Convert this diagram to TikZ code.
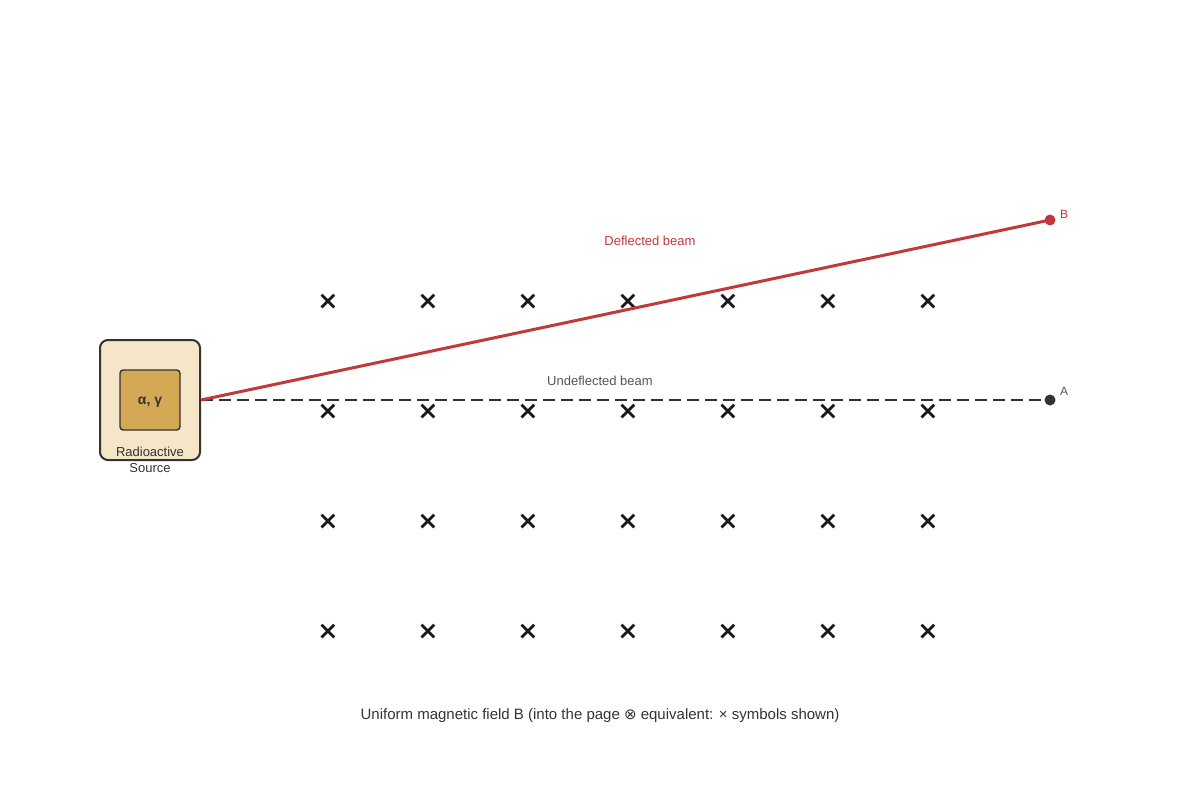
\documentclass[tikz,border=0pt]{standalone}
\usepackage{fontspec}
\setmainfont{Liberation Sans}
\newfontfamily\symfont{DejaVu Sans}
\definecolor{beamred}{HTML}{C0393B}
\definecolor{ink}{HTML}{333333}
\definecolor{soft}{HTML}{555555}
\definecolor{boxfill}{HTML}{F5E6C8}
\definecolor{corefill}{HTML}{D4A855}
\begin{document}
\begin{tikzpicture}[x=0.75pt,y=-0.75pt,
  srcbox/.style={draw=ink,line width=1.5pt,fill=boxfill,rounded corners=6pt,minimum width=75pt,minimum height=90pt,inner sep=0pt},
  corebox/.style={draw=ink,line width=1.1pt,fill=corefill,rounded corners=2.5pt,minimum width=45pt,minimum height=45pt,inner sep=0pt},
  lbl/.style={font=\fontsize{9.75pt}{11.5pt}\selectfont,inner sep=0pt},
  ptlbl/.style={font=\fontsize{9pt}{10pt}\selectfont,inner sep=0pt},
  fieldx/.style={font=\symfont\bfseries\fontsize{19pt}{19pt}\selectfont,inner sep=0pt,text=black!90},
  dot/.style={circle,inner sep=0pt,minimum size=8.25pt}
]
\useasboundingbox (0,0) rectangle (1200,800);
% field crosses
\foreach \r [count=\i] in {302,412,522,632}{
  \foreach \c [count=\j] in {328,428,528,628,728,828,928}{
    \node[fieldx] (x\i\j) at (\c,\r) {×};
  }
}
% source
\node[srcbox] (src) at (150,400) {};
\node[corebox] (core) at (150,400) {};
\node[font=\bfseries\fontsize{10.5pt}{12pt}\selectfont,text=ink] (rad) at (150,402) {α, γ};
\node[lbl,text=ink,align=center] (srclbl) at (150,460) {Radioactive\\Source};
% end points
\node[dot,fill=beamred] (ptB) at (1050,220) {};
\node[dot,fill=ink] (ptA) at (1050,400) {};
\node[ptlbl,text=beamred] (lblB) at (1064,214) {B};
\node[ptlbl,text=soft] (lblA) at (1064,391) {A};
% beams
\draw[ink,line width=2.1pt,dash pattern=on 9pt off 4.5pt] (src.east) -- (ptA.center);
\draw[beamred,line width=2.25pt] (src.east) -- (ptB.center);
\node[lbl,text=beamred] (defl) at (650,241) {Deflected beam};
\node[lbl,text=soft] (undefl) at (600,381) {Undeflected beam};
% caption
\node[font=\fontsize{11.25pt}{13pt}\selectfont,text=ink,inner sep=0pt] (cap) at (600,716) {Uniform magnetic field B (into the page {\symfont ⊗} equivalent: × symbols shown)};
\end{tikzpicture}
\end{document}
